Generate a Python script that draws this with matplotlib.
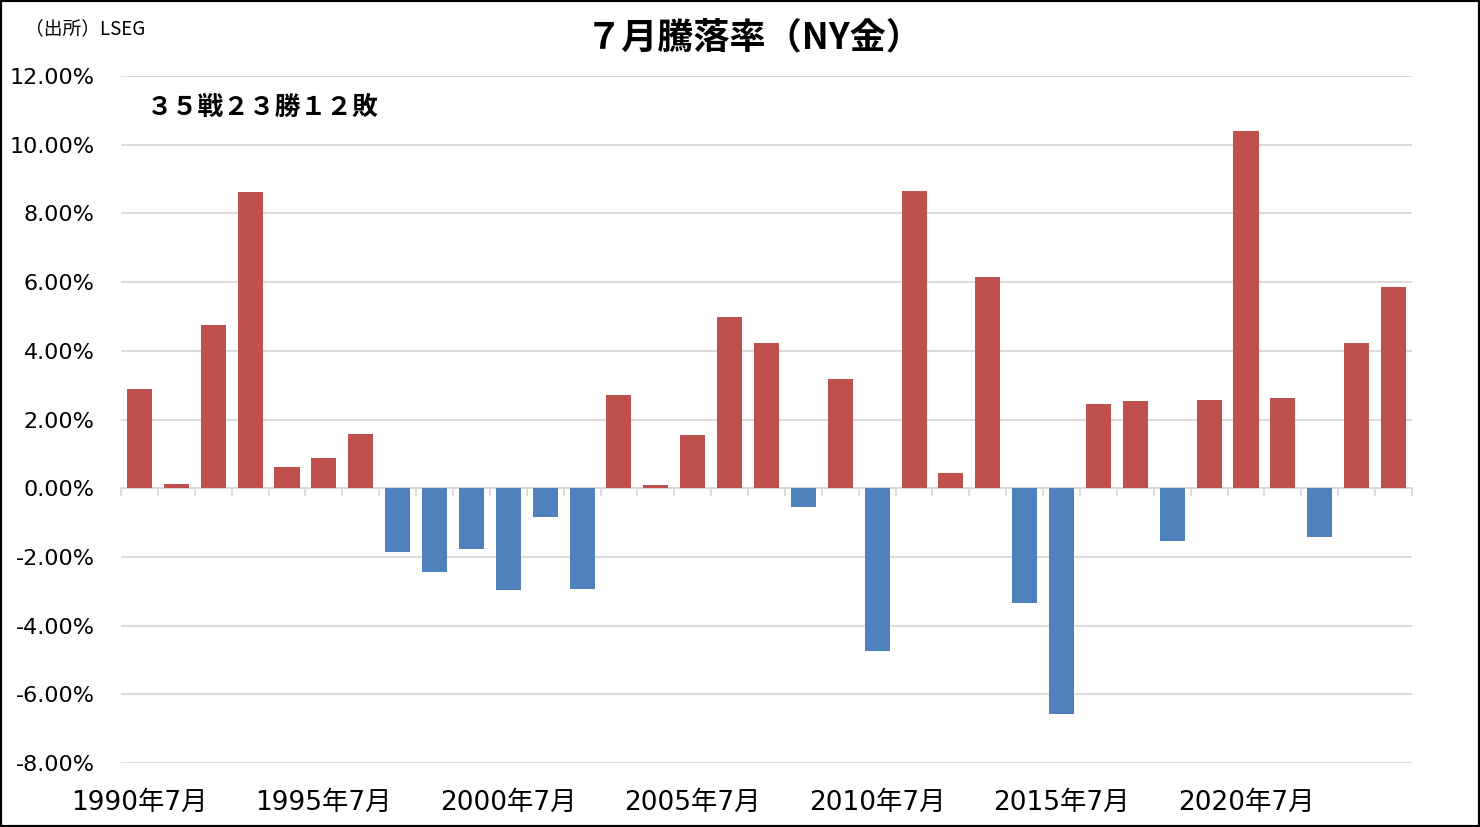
import matplotlib
matplotlib.use("Agg")
import matplotlib.pyplot as plt
from matplotlib.patches import Rectangle
import numpy as np

years = list(range(1990, 2025))
returns = [2.88, 0.12, 4.75, 8.62, 0.61, 0.87, 1.57, -1.86, -2.45, -1.78,
           -2.97, -0.84, -2.94, 2.71, 0.09, 1.54, 4.98, 4.22, -0.55, 3.18,
           -4.75, 8.65, 0.44, 6.15, -3.35, -6.58, 2.45, 2.53, -1.54, 2.56,
           10.40, 2.62, -1.43, 4.22, 5.85]
label_years = [1990, 1995, 2000, 2005, 2010, 2015, 2020]
y_ticks = [-8, -6, -4, -2, 0, 2, 4, 6, 8, 10, 12]

title = "７月騰落率（NY金）"
source = "（出所）LSEG"
record = "３５戦２３勝１２敗"

fam = ["DejaVu Sans", "Noto Sans CJK JP"]
plt.rcParams["font.family"] = fam

fig = plt.figure(figsize=(14.8, 8.27), dpi=100)
ax = fig.add_axes([121/1480, 1-763/827, (1412-121)/1480, (763-76)/827])

x = np.arange(len(years))
vals = np.array(returns)
colors = ["#C0504D" if v >= 0 else "#4F81BD" for v in vals]
ax.bar(x, vals, width=0.68, color=colors, zorder=3)

ax.set_xlim(-0.5, len(years) - 0.5)
ax.set_ylim(-8, 12)
ax.set_yticks(y_ticks)
ax.set_yticklabels([f"{t:.2f}%" for t in y_ticks], fontsize=16)
ax.tick_params(axis="y", length=0, pad=19)
ax.grid(axis="y", color="#D9D9D9", linewidth=1.3, zorder=0)

pos = [years.index(y) for y in label_years]
ax.set_xticks(pos)
ax.set_xticklabels([f"{y}年7月" for y in label_years], fontsize=19)
ax.tick_params(axis="x", length=0, pad=19)

for s in ax.spines.values():
    s.set_visible(False)

sec = ax.secondary_xaxis(0.4)
sec.set_xticks(np.arange(len(years) + 1) - 0.5)
sec.set_xticklabels([])
sec.tick_params(axis="x", direction="out", length=6, width=1.3, color="#D9D9D9")
sec.spines["bottom"].set_color("#D9D9D9")
sec.spines["bottom"].set_linewidth(1.3)

ax.text(0.02, 0.955, record, transform=ax.transAxes, fontsize=18.5,
        fontweight="bold", ha="left", va="center", family=["Noto Sans CJK JP"])
fig.text(754/1480, 1-38/827, title, fontsize=26, fontweight="bold",
         ha="center", va="center", family=["Noto Sans CJK JP"])
fig.text(25/1480, 1-29/827, source, fontsize=13.5, ha="left", va="center",
         family=["Noto Sans CJK JP"])

fig.patches.append(Rectangle((0, 0), 1, 1, transform=fig.transFigure,
                             fill=False, edgecolor="black", linewidth=3))

fig.savefig("out.png", dpi=100)
